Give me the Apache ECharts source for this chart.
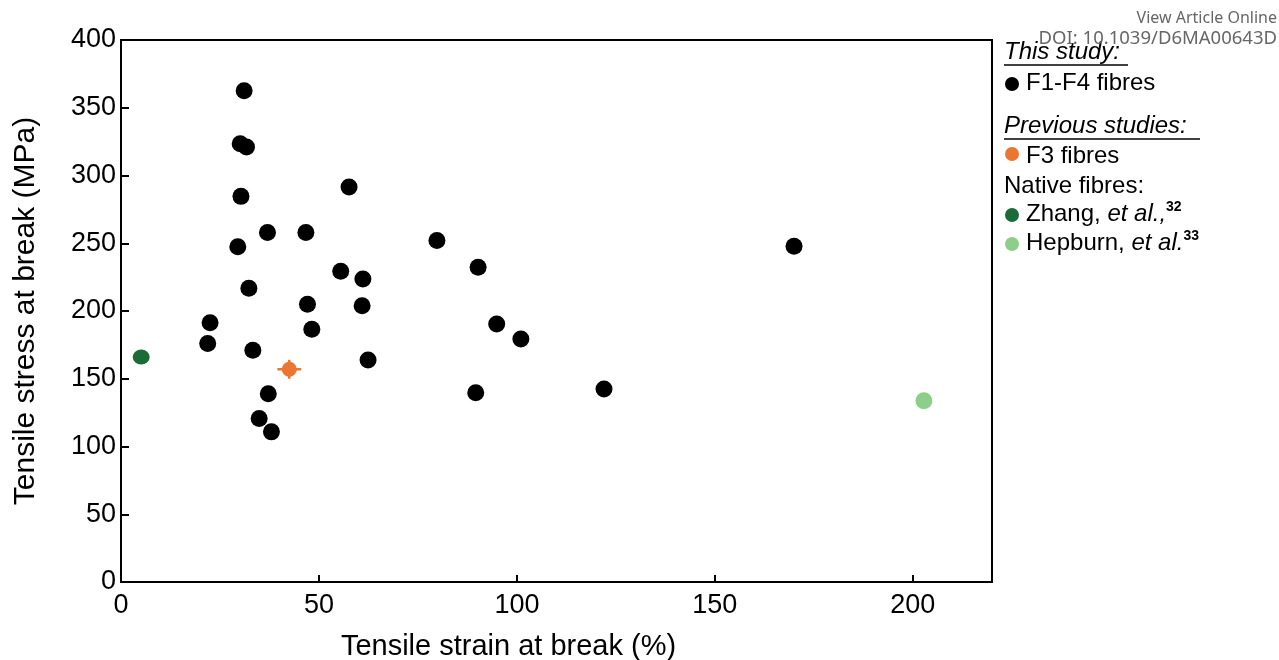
<!DOCTYPE html>
<html>
<head>
<meta charset="utf-8">
<script src="https://cdn.jsdelivr.net/npm/echarts@6.0.0/dist/echarts.min.js"></script>
<style>
  html, body { margin: 0; padding: 0; background: #fff; }
  #app { width: 1279px; height: 660px; }
</style>
</head>
<body>
<div id="app"></div>
<script>
// this study: F1-F4 fibres (strain %, stress MPa)
var fibreStrain = [31.1, 30.1, 31.7, 30.3, 57.6, 37.0, 46.7, 29.5, 79.8, 170.0, 55.5, 61.1, 90.2, 32.3,
                   47.1, 60.9, 48.2, 94.9, 22.5, 21.9, 33.3, 101.0, 62.4, 37.2, 89.6, 122.0, 34.9, 38.0];
var fibreStress = [362.5, 323.5, 321.0, 284.6, 291.5, 258.0, 258.0, 247.5, 252.0, 247.8, 229.3, 223.7, 232.3, 216.8,
                   205.0, 203.9, 186.6, 190.4, 191.3, 176.0, 171.1, 179.4, 163.8, 139.0, 139.7, 142.5, 120.6, 110.8];

// previous studies
var f3Strain = [42.5];
var f3Stress = [157.0];
var f3StrainErr = [3.0];
var f3StressErr = [7.0];
var zhangStrain = [5.1];
var zhangStress = [166.0];
var hepburnStrain = [202.8];
var hepburnStress = [133.8];

var xTicks = [0, 50, 100, 150, 200];
var yTicks = [0, 50, 100, 150, 200, 250, 300, 350, 400];

var FONT = 'Liberation Sans, Arial, sans-serif';

function pairs(xs, ys) {
    return xs.map(function (x, i) { return [x, ys[i]]; });
}

var chart = echarts.init(document.getElementById('app'), null, { renderer: 'canvas' });

var supRich = {
    n: { font: '24px ' + FONT, fill: '#000', lineHeight: 28 },
    i: { font: 'italic 24px ' + FONT, fill: '#000', lineHeight: 28 },
    s: { font: 'bold 14px ' + FONT, fill: '#000', verticalAlign: 'top', lineHeight: 28 }
};

var legendItems = [
    { type: 'text', left: 1004, top: 40, style: { text: 'This study:', font: 'italic 24px ' + FONT, fill: '#000' } },
    { type: 'line', shape: { x1: 1004, y1: 65, x2: 1128, y2: 65 }, style: { stroke: '#000', lineWidth: 1.5 } },
    { type: 'circle', shape: { cx: 1012, cy: 84, r: 7 }, style: { fill: '#000' } },
    { type: 'text', left: 1026, top: 71, style: { text: 'F1-F4 fibres', font: '24px ' + FONT, fill: '#000' } },
    { type: 'text', left: 1004, top: 114, style: { text: 'Previous studies:', font: 'italic 24px ' + FONT, fill: '#000' } },
    { type: 'line', shape: { x1: 1004, y1: 139, x2: 1200, y2: 139 }, style: { stroke: '#000', lineWidth: 1.5 } },
    { type: 'circle', shape: { cx: 1012, cy: 154, r: 7 }, style: { fill: '#ec7532' } },
    { type: 'text', left: 1026, top: 144, style: { text: 'F3 fibres', font: '24px ' + FONT, fill: '#000' } },
    { type: 'text', left: 1004, top: 174, style: { text: 'Native fibres:', font: '24px ' + FONT, fill: '#000' } },
    { type: 'circle', shape: { cx: 1012, cy: 215, r: 7 }, style: { fill: '#1b6b37' } },
    { type: 'text', left: 1026, top: 200, style: { text: '{n|Zhang, }{i|et al.,}{s|32}', rich: supRich } },
    { type: 'circle', shape: { cx: 1012, cy: 244, r: 7 }, style: { fill: '#8ccf89' } },
    { type: 'text', left: 1026, top: 229, style: { text: '{n|Hepburn, }{i|et al.}{s|33}', rich: supRich } },
    // journal watermark
    { type: 'text', right: 2, top: 10, style: { text: 'View Article Online', font: '16px Noto Sans, sans-serif', fill: '#666', align: 'right' } },
    { type: 'text', right: 2, top: 29, style: { text: 'DOI: 10.1039/D6MA00643D', font: '18.5px Noto Sans, sans-serif', fill: '#666', align: 'right' } }
];

var option = {
    backgroundColor: '#fff',
    animation: false,
    grid: {
        left: 121, top: 40, width: 871, height: 542,
        outerBoundsMode: 'none', containLabel: false,
        show: true, borderColor: '#000', borderWidth: 2, backgroundColor: 'transparent'
    },
    xAxis: {
        type: 'value', min: 0, max: 220, interval: 50,
        name: 'Tensile strain at break (%)', nameLocation: 'middle', nameGap: 50,
        nameTextStyle: { fontFamily: FONT, fontSize: 29, color: '#000', padding: [0, 96, 0, 0] },
        axisLine: { show: true, lineStyle: { color: '#000', width: 2 } },
        axisTick: { show: true, inside: true, length: 7, lineStyle: { color: '#000', width: 2 } },
        axisLabel: {
            fontFamily: FONT, fontSize: 27, color: '#000', margin: 10,
            showMaxLabel: false,
            formatter: function (v) { return xTicks.indexOf(v) >= 0 ? String(v) : ''; }
        },
        splitLine: { show: false }
    },
    yAxis: {
        type: 'value', min: 0, max: 400, interval: 50,
        name: 'Tensile stress at break (MPa)', nameLocation: 'middle', nameGap: 80, nameRotate: 90,
        nameTextStyle: { fontFamily: FONT, fontSize: 30, color: '#000' },
        axisLine: { show: true, lineStyle: { color: '#000', width: 2 } },
        axisTick: { show: true, inside: true, length: 8, lineStyle: { color: '#000', width: 2 } },
        axisLabel: {
            fontFamily: FONT, fontSize: 27, color: '#000', margin: 5,
            formatter: function (v) { return yTicks.indexOf(v) >= 0 ? String(v) : ''; }
        },
        splitLine: { show: false }
    },
    graphic: legendItems,
    series: [
        {
            name: 'F1-F4 fibres', type: 'scatter', symbol: 'circle', symbolSize: 17,
            itemStyle: { color: '#000', opacity: 1 },
            data: pairs(fibreStrain, fibreStress), z: 3
        },
        {
            name: 'F3 error', type: 'custom',
            data: f3Strain.map(function (x, i) { return [x, f3Stress[i], f3StrainErr[i], f3StressErr[i]]; }),
            renderItem: function (params, api) {
                var x = api.value(0), y = api.value(1), ex = api.value(2), ey = api.value(3);
                var l = api.coord([x - ex, y]), r = api.coord([x + ex, y]);
                var t = api.coord([x, y + ey]), b = api.coord([x, y - ey]);
                var st = { stroke: '#ec7532', lineWidth: 2.5 };
                return {
                    type: 'group',
                    children: [
                        { type: 'line', shape: { x1: l[0], y1: l[1], x2: r[0], y2: r[1] }, style: st },
                        { type: 'line', shape: { x1: t[0], y1: t[1], x2: b[0], y2: b[1] }, style: st }
                    ]
                };
            },
            z: 2
        },
        {
            name: 'F3 fibres', type: 'scatter', symbol: 'circle', symbolSize: 15,
            itemStyle: { color: '#ec7532', opacity: 1 },
            data: pairs(f3Strain, f3Stress), z: 3
        },
        {
            name: 'Zhang', type: 'scatter', symbol: 'circle', symbolSize: [17, 15],
            itemStyle: { color: '#1b6b37', opacity: 1 },
            data: pairs(zhangStrain, zhangStress), z: 3
        },
        {
            name: 'Hepburn', type: 'scatter', symbol: 'circle', symbolSize: 17,
            itemStyle: { color: '#8ccf89', opacity: 1 },
            data: pairs(hepburnStrain, hepburnStress), z: 3
        }
    ]
};

chart.setOption(option);
</script>
</body>
</html>
